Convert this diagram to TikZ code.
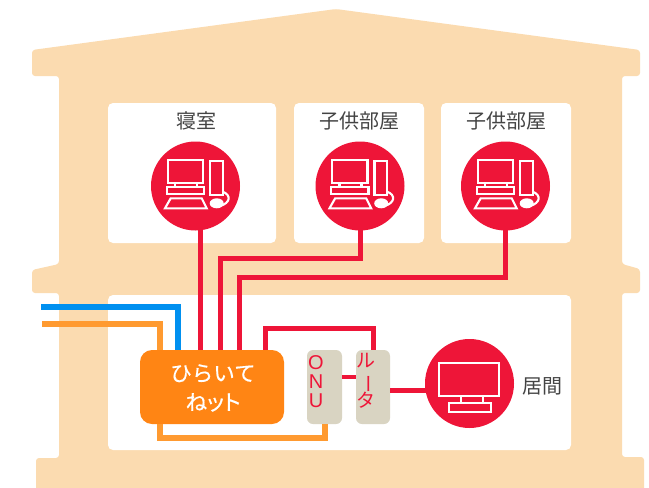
\documentclass[tikz,border=0pt]{standalone}
\usepackage{fontspec}
\newfontfamily\cjk{Noto Sans CJK JP}
\newfontfamily\cjkhub[FakeBold=0.5]{Noto Sans CJK JP}
\newfontfamily\cjkpalt[RawFeature=+palt,FakeBold=0.5]{Noto Sans CJK JP}
\setsansfont{Liberation Sans}
\usetikzlibrary{positioning}
\definecolor{housecol}{HTML}{FBDBB0}
\definecolor{redcol}{HTML}{EE1538}
\definecolor{bluecol}{HTML}{0090F0}
\definecolor{wirecol}{HTML}{FF9A30}
\definecolor{hubcol}{HTML}{FF8514}
\definecolor{boxcol}{HTML}{D9D4C2}
\definecolor{textcol}{HTML}{444444}
\tikzset{
    room/.style={fill=white,rounded corners=5pt,inner sep=0pt},
    device/.style={circle,fill=redcol,minimum size=89pt,inner sep=0pt},
    roomname/.style={text=textcol,font=\cjk\fontsize{20}{22}\selectfont,inner sep=0pt},
    unit/.style={fill=boxcol,rounded corners=6pt,minimum width=35pt,minimum height=74pt,inner sep=0pt},
    unitname/.style={text=redcol,align=center,inner sep=0pt},
    redline/.style={draw=redcol,line width=5pt},
    blueline/.style={draw=bluecol,line width=5.5pt},
    orangeline/.style={draw=wirecol,line width=5.5pt},
    icon/.style={draw=white,line width=2.1pt},
    pcicon/.pic={
        \draw[icon] (-27.8,-26) rectangle (7.5,-3.3);
        \draw[icon] (-20.5,-3.3) -- (-20.5,0.7) (1.5,-3.3) -- (1.5,0.7);
        \draw[icon] (-28.8,0.7) rectangle (8.5,8);
        \draw[icon] (-24.8,12.3) -- (6.2,12.3) -- (11.2,22.3) -- (-30.5,22.3) -- cycle;
        \draw[icon] (14.5,-25) rectangle (27.2,9);
        \fill[white] (21.2,17.3) ellipse (7 and 5);
        \draw[icon] (27.2,5.7) .. controls (36,9) and (35,17) .. (24.5,20);
    }
}

\begin{document}
\begin{tikzpicture}[x=1pt,y=-1pt]

    \useasboundingbox (0,0) rectangle (649,488);

    % house
    \fill[housecol,rounded corners=3pt] (32,76) -- (32,50) -- (336,9) -- (640,50) -- (640,76) -- (622,76)
        -- (622,264) -- (640,269) -- (640,293) -- (622,293) -- (622,457) -- (644,457) -- (644,500)
        -- (36,500) -- (36,458) -- (59,458) -- (59,293) -- (32,293) -- (32,270) -- (59,264) -- (59,76) -- cycle;

    \node[room,minimum width=168pt,minimum height=140pt] (bedroom) at (192,173)   {};
    \node[room,minimum width=130pt,minimum height=140pt] (kidsA)   at (359,173)   {};
    \node[room,minimum width=130pt,minimum height=140pt] (kidsB)   at (506,173)   {};
    \node[room,minimum width=463pt,minimum height=155pt] (living)  at (339.5,372.5) {};

    \node[roomname] (bedroom name) at (196,121)   {寝室};
    \node[roomname] (kidsA name)   at (359.5,121) {子供部屋};
    \node[roomname] (kidsB name)   at (506,121)   {子供部屋};
    \node[roomname] (living name)  at (542.5,386) {居間};

    % equipment
    \node[device] (pcA) at (195.5,186) {};
    \node[device] (pcB) at (360,186)   {};
    \node[device] (pcC) at (505.5,186) {};
    \node[device] (tv)  at (469.5,383.5) {};

    \pic at (pcA) {pcicon};
    \pic at (pcB) {pcicon};
    \pic at (pcC) {pcicon};

    \draw[icon] (439,363) rectangle (499,396);
    \draw[icon] (461,396) rectangle (483,403);
    \draw[icon] (449,403) rectangle (491,412);

    \node[fill=hubcol,rounded corners=12pt,minimum width=144pt,minimum height=74pt,inner sep=0pt] (hub) at (212,387) {};
    \node[unit] (onu)    at (324.5,387) {};
    \node[unit,minimum width=34pt] (router) at (373,387) {};

    \node[text=white,align=center,inner sep=0pt,font=\cjkhub\fontsize{21.5}{29}\selectfont] (hub name) at (213,388) {ひらいて\\{\cjkpalt ねット}};
    \node[unitname,font=\sffamily\fontsize{20}{19}\selectfont] (onu name) at (316,382) {O\\N\\U};
    \node[unitname,font=\cjk\fontsize{19}{20}\selectfont] (router name) at (366,381) {ル\\\smash{\rotatebox[origin=c]{-90}{ー}}\\タ};

    % wires
    \coordinate (outA) at (41,307);
    \coordinate (outB) at (42,324);
    \coordinate (turnA) at (178,307);
    \coordinate (turnB) at (160,324);
    \coordinate (portA) at (200.5,229.5);
    \coordinate (portB) at (360.5,229.5);
    \coordinate (portC) at (505.5,229.5);
    \coordinate (turnC) at (220,258);
    \coordinate (turnD) at (239.5,277);
    \coordinate (turnE) at (265,328);
    \coordinate (turnF) at (373,328);
    \coordinate (turnG) at (160,438);
    \coordinate (turnH) at (325,438);
    \coordinate (linkport) at (342,377);
    \coordinate (tvport) at (426,390);

    \draw[blueline] (outA) -- (turnA) -- (turnA |- hub.north);
    \draw[orangeline] (outB) -- (turnB) -- (turnB |- hub.north);
    \draw[redline] (portA) -- (portA |- hub.north);
    \draw[redline] (portB) |- (turnC) -- (turnC |- hub.north);
    \draw[redline] (portC) |- (turnD) -- (turnD |- hub.north);
    \draw[redline] (turnE |- hub.north) -- (turnE) -- (turnF) -- (turnF |- router.north);
    \draw[orangeline] (turnG |- hub.south) -- (turnG) -- (turnH) -- (turnH |- onu.south);
    \draw[draw=redcol,line width=4pt] (linkport) -- (linkport -| router.west);
    \draw[redline] (tvport -| router.east) -- (tvport);

\end{tikzpicture}
\end{document}
